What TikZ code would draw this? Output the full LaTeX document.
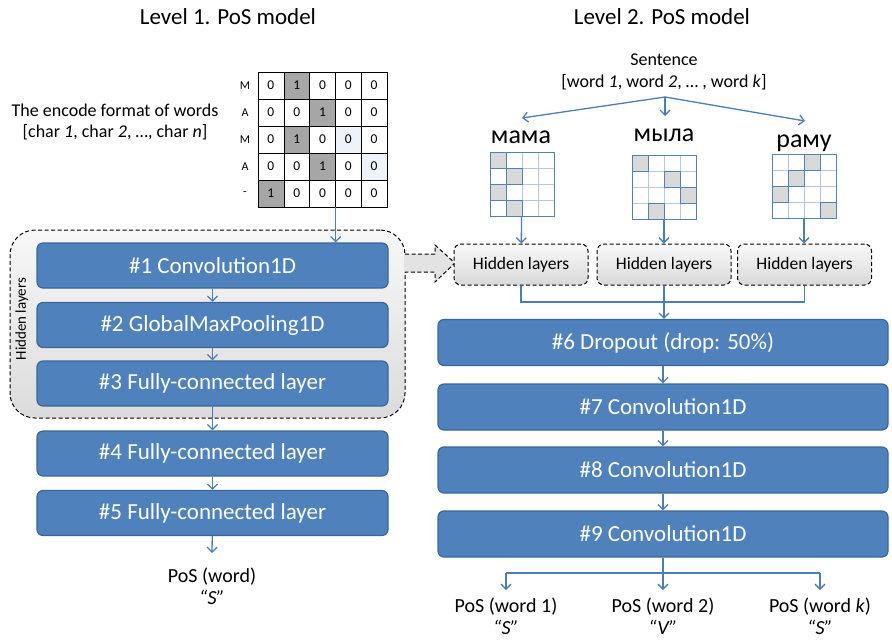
\documentclass[tikz,border=0pt]{standalone}
\usepackage{fontspec}
\setmainfont{Carlito}
\usetikzlibrary{arrows.meta}
\definecolor{bfill}{HTML}{4F81BD}
\definecolor{bdraw}{HTML}{3A679A}
\definecolor{arrc}{HTML}{4A7EBB}
\definecolor{onefill}{HTML}{A6A6A6}
\definecolor{pale}{HTML}{EEF3FA}
\definecolor{gridc}{HTML}{B4C8E4}
\definecolor{cellg}{HTML}{D9D9D9}
\newcommand\wordgrid[4]{%
  \foreach \rr/\cc in {#4} {\path[fill=cellg] ({#2+(\cc-1)*16},{#3+(\rr-1)*16}) rectangle ++(16,16);}
  \foreach \kk in {1,2,3} {\path[draw=gridc, line width=0.7pt] ({#2+\kk*16},#3) -- ++(0,64);
                           \path[draw=gridc, line width=0.7pt] (#2,{#3+\kk*16}) -- ++(64,0);}
  \foreach \rr/\cc in {#4} {\path[draw=bfill, line width=1pt] ({#2+(\cc-1)*16},{#3+(\rr-1)*16}) rectangle ++(16,16);}
  \path[draw=bfill, line width=1pt] (#2,#3) rectangle ++(64,64);
  \node[inner sep=0pt, minimum size=64pt] (#1) at ({#2+32},{#3+32}) {};
}
\begin{document}
\begin{tikzpicture}[x=1pt,y=-1pt,
  layer/.style={draw=bdraw, line width=1.2pt, fill=bfill, rounded corners=6pt, text=white,
    font=\fontsize{23}{27}\selectfont, minimum height=45pt, inner sep=0pt},
  lwide/.style={layer, minimum width=351pt},
  rwide/.style={layer, minimum width=450pt, minimum height=46pt},
  arr/.style={draw=arrc, line width=1.3pt, -{Straight Barb[length=5pt,width=10pt]}},
  ln/.style={draw=arrc, line width=1.3pt},
  dsh/.style={draw=black, dash pattern=on 4pt off 2.5pt, line width=1pt},
  hid/.style={dsh, rounded corners=7pt, top color=gray!5, bottom color=gray!30,
    minimum width=134pt, minimum height=41pt, font=\fontsize{17.5}{20}\selectfont, inner sep=0pt},
  ttl/.style={font=\fontsize{23}{27}\selectfont},
  txt/.style={font=\fontsize{18}{21.5}\selectfont, align=center},
  outt/.style={font=\fontsize{20}{22}\selectfont, align=center, inner sep=0pt},
  mcell/.style={draw=black, line width=0.6pt, minimum width=25.8pt, minimum height=27pt,
    inner sep=0pt, font=\fontsize{13.5}{15}\selectfont},
  rowl/.style={font=\fontsize{12}{14}\selectfont, inner sep=0pt},
  word/.style={font=\fontsize{26}{29}\selectfont, anchor=base, inner sep=0pt}]
\useasboundingbox (0,0) rectangle (892,641);

% titles
\node[ttl] (t1) at (228,17) {Level 1. PoS model};
\node[ttl] (t2) at (662,17) {Level 2. PoS model};

% encode format
\node[txt] (enc) at (115,122) {The encode format of words\\{}[char \textit{1}, char \textit{2}, …, char \textit{n}]};

% left matrix
\foreach \rr/\cc in {1/2,2/3,3/2,4/3,5/1} {\path[fill=onefill] ({258+(\cc-1)*25.8},{72+(\rr-1)*27}) rectangle ++(25.8,27);}
\foreach \rr/\cc in {3/4,4/5} {\path[fill=pale] ({258+(\cc-1)*25.8},{72+(\rr-1)*27}) rectangle ++(25.8,27);}
\foreach \row [count=\ri] in {{0,1,0,0,0},{0,0,1,0,0},{0,1,0,0,0},{0,0,1,0,0},{1,0,0,0,0}} {
  \foreach \v [count=\ci] in \row {
    \node[mcell] (m-\ri-\ci) at ({258+(\ci-0.5)*25.8},{72+(\ri-0.5)*27}) {\v};
  }
}
\foreach \lt [count=\ri] in {M,A,M,A,-} {\node[rowl] (rl-\ri) at (245,{72+(\ri-0.5)*27}) {\lt};}

% word grids
\wordgrid{ga}{490}{152}{1/1,2/2,3/1,4/2}
\wordgrid{gb}{632}{155}{1/1,2/3,3/4,4/2}
\wordgrid{gc}{772}{154}{1/3,2/2,3/1,4/4}

% hidden-layers group
\node[dsh, rounded corners=25pt, top color=gray!6, bottom color=gray!28, minimum width=395pt,
  minimum height=188pt, inner sep=0pt] (grp) at (207.5,324) {};
\node[rotate=90, font=\fontsize{15}{18}\selectfont] (glab) at (22,319) {Hidden layers};

% block arrow (dashed)
\path[fill=gray!22] (404,254) -- (435,254) -- (435,245) -- (455,263) -- (435,282) -- (435,272) -- (404,272) -- cycle;
\draw[dsh] (405,254) -- (435,254) -- (435,245) -- (455,263) -- (435,282) -- (435,272) -- (405,272);

% left layers
\node[lwide] (c1) at (212.5,265.5) {\#1 Convolution1D};
\node[lwide] (c2) at (212.5,325) {\#2 GlobalMaxPooling1D};
\node[lwide] (c3) at (212.5,383.5) {\#3 Fully-connected layer};
\node[lwide] (c4) at (212.5,453.5) {\#4 Fully-connected layer};
\node[lwide] (c5) at (212.5,513) {\#5 Fully-connected layer};

\draw[arr] (m-5-3.south east) -- (c1.north -| m-5-3.south east);
\draw[arr] (c1) -- (c2);
\draw[arr] (c2) -- (c3);
\draw[arr] (c3) -- (c4);
\draw[arr] (c4) -- (c5);
\node[outt] (o0) at (212,586) {PoS (word)\\\textit{“S”}};
\coordinate (o0t) at (212,553);
\draw[arr] (c5) -- (o0t);

% right: sentence
\node[txt] (sent) at (664,72) {Sentence\\{}[word \textit{1}, word \textit{2}, … , word \textit{k}]};
\coordinate (sroot) at (665,97);
\coordinate (tipa) at (522,118);
\coordinate (tipb) at (665,116);
\coordinate (tipc) at (805,121);
\draw[arr] (sroot) -- (tipa);
\draw[arr] (sroot) -- (tipb);
\draw[arr] (sroot) -- (tipc);

\node[word] (wa) at (521,143) {мама};
\node[word] (wb) at (664,141) {мыла};
\node[word] (wc) at (804,147) {раму};

\node[hid] (ha) at (521,264.5) {Hidden layers};
\node[hid] (hb) at (664,264.5) {Hidden layers};
\node[hid] (hc) at (804.5,264.5) {Hidden layers};

\draw[arr] (ga) -- (ha);
\draw[arr] (gb) -- (hb);
\draw[arr] (gc) -- (hc.north -| gc);

% right layers
\node[rwide] (d6) at (663,342.5) {\#6 Dropout (drop: 50\%)};
\node[rwide] (d7) at (663,407) {\#7 Convolution1D};
\node[rwide] (d8) at (663,470) {\#8 Convolution1D};
\node[rwide] (d9) at (663,534) {\#9 Convolution1D};

\coordinate (mj) at (664,302);
\draw[ln] (ha.south) |- (mj);
\draw[ln] (hc.south) |- (mj);
\draw[ln] (hb.south) -- (mj);
\draw[arr] (mj) -- (mj |- d6.north);
\draw[arr] (d6) -- (d7);
\draw[arr] (d7) -- (d8);
\draw[arr] (d8) -- (d9);

% outputs
\coordinate (oj) at (663,573);
\coordinate (oja) at (506,573);
\coordinate (ojc) at (820,573);
\coordinate (ota) at (506,590);
\coordinate (otb) at (663,590);
\coordinate (otc) at (820,590);
\draw[ln] (d9.south) -- (oj);
\draw[ln] (oja) -- (ojc);
\draw[arr] (oja) -- (ota);
\draw[arr] (oj) -- (otb);
\draw[arr] (ojc) -- (otc);
\node[outt] (oa) at (506,616) {PoS (word 1)\\\textit{“S”}};
\node[outt] (ob) at (663,616) {PoS (word 2)\\\textit{“V”}};
\node[outt] (oc) at (820,616) {PoS (word \textit{k})\\\textit{“S”}};
\end{tikzpicture}
\end{document}
